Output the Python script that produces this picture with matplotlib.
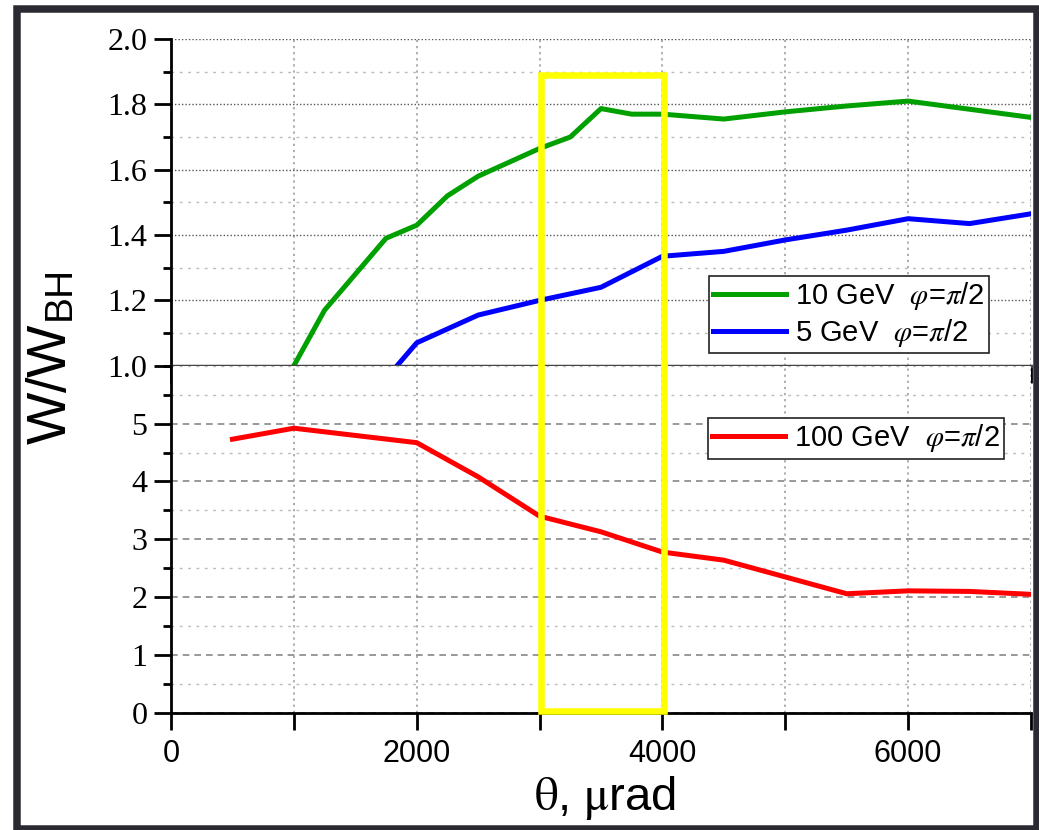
import matplotlib.pyplot as plt
from matplotlib.patches import Rectangle
from matplotlib.ticker import MultipleLocator, FuncFormatter

plt.rcParams['mathtext.fontset'] = 'stix'

# W/W_BH versus theta (urad), phi = pi/2
theta_10 = [1000, 1250, 1750, 2000, 2250, 2500, 3000, 3250, 3500, 3750, 4000, 4500, 5000, 5500, 6000, 6500, 7000]
w_10 = [1.00, 1.17, 1.39, 1.43, 1.52, 1.58, 1.665, 1.70, 1.787, 1.77, 1.77, 1.755, 1.777, 1.795, 1.81, 1.785, 1.76]

theta_5 = [1840, 2000, 2500, 3000, 3500, 4000, 4500, 5000, 5500, 6000, 6500, 7000]
w_5 = [1.00, 1.07, 1.155, 1.20, 1.24, 1.335, 1.35, 1.385, 1.415, 1.45, 1.435, 1.465]

theta_100 = [500, 1000, 2000, 2500, 3000, 3500, 4000, 4500, 5000, 5500, 6000, 6500, 7000]
w_100 = [4.73, 4.92, 4.67, 4.08, 3.40, 3.13, 2.78, 2.64, 2.35, 2.06, 2.11, 2.10, 2.05]

labels = [r'10 GeV  $\varphi$=$\pi$/2', r'5 GeV  $\varphi$=$\pi$/2', r'100 GeV  $\varphi$=$\pi$/2']

# highlighted theta window
box_x = [3010, 4010]
box_top = 1.89
box_bot = 0.03

fig = plt.figure(figsize=(10.39, 8.30), dpi=100)
ax_top = fig.add_axes([0.1646, 0.5594, 0.8277, 0.3936])
ax_bot = fig.add_axes([0.1646, 0.1410, 0.8277, 0.4184])

for ax in (ax_top, ax_bot):
    ax.set_xlim(0, 7000)
    ax.xaxis.set_major_locator(MultipleLocator(1000))
    ax.grid(axis='x', which='major', color='#999999', ls=(0, (1.5, 2.5)), lw=1.1)
    ax.spines['top'].set_visible(False)
    ax.spines['right'].set_visible(False)
    ax.spines['left'].set_linewidth(2)

# upper panel
ax_top.set_ylim(1.0, 2.0)
ax_top.yaxis.set_major_locator(MultipleLocator(0.2))
ax_top.yaxis.set_minor_locator(MultipleLocator(0.1))
ax_top.yaxis.set_major_formatter(FuncFormatter(lambda v, p: '%.1f' % v))
ax_top.grid(axis='y', which='major', color='#555555', ls=(0, (1, 1.5)), lw=1)
ax_top.grid(axis='y', which='minor', color='#bbbbbb', ls=(0, (2, 4)), lw=1)
ax_top.spines['bottom'].set_linewidth(2.5)
ax_top.spines['bottom'].set_color('#444444')
ax_top.plot(theta_10, w_10, color='#00a000', lw=3.6, label=labels[0])
ax_top.plot(theta_5, w_5, color='#0000ff', lw=3.6, label=labels[1])

# lower panel
ax_bot.set_ylim(0, 6)
ax_bot.set_yticks(range(6))
ax_bot.yaxis.set_minor_locator(MultipleLocator(0.5))
ax_bot.grid(axis='y', which='major', color='#888888', ls=(0, (4, 3)), lw=1.2)
ax_bot.grid(axis='y', which='minor', color='#bbbbbb', ls=(0, (2, 4)), lw=1)
ax_bot.spines['bottom'].set_linewidth(2)
ax_bot.xaxis.set_major_formatter(FuncFormatter(lambda v, p: '%d' % v if v % 2000 == 0 else ''))
ax_bot.plot(theta_100, w_100, color='#ff0000', lw=3.6, label=labels[2])

# ticks
for ax in (ax_top, ax_bot):
    ax.tick_params(axis='both', which='major', direction='out', length=12, width=2)
    ax.tick_params(axis='y', which='minor', direction='out', length=6, width=2)
    ax.tick_params(axis='y', pad=5, labelsize=23, labelfontfamily='Liberation Serif')
ax_top.tick_params(axis='x', labelbottom=False)
ax_bot.tick_params(axis='x', pad=7, labelsize=22, labelfontfamily='Liberation Sans')

# yellow box across both panels
ax_top.plot([box_x[0], box_x[0], box_x[1], box_x[1]], [1.0, box_top, box_top, 1.0],
            color='#ffff00', lw=4.7, clip_on=False, zorder=6, solid_joinstyle='miter')
ax_bot.plot([box_x[0], box_x[0], box_x[1], box_x[1]], [6, box_bot, box_bot, 6],
            color='#ffff00', lw=4.7, clip_on=False, zorder=6, solid_joinstyle='miter')

leg_kw = dict(loc='upper left', bbox_transform=fig.transFigure, fancybox=False,
              edgecolor='#222222', framealpha=1, borderaxespad=0, handlelength=2.5,
              handletextpad=0.3, labelspacing=0.15, borderpad=0.15,
              prop={'family': 'Liberation Sans', 'size': 21})
leg1 = ax_top.legend(bbox_to_anchor=(0.6824, 0.6675), **leg_kw)
leg2 = ax_bot.legend(bbox_to_anchor=(0.6814, 0.4964), **leg_kw)
for leg in (leg1, leg2):
    leg.get_frame().set_linewidth(1.2)
    leg.set_zorder(7)

fig.text(52 / 1039, 1 - 358 / 830, r'W/W$_\mathregular{BH}$', rotation=90,
         ha='center', va='center', fontsize=40, family='Liberation Sans')
fig.text(605 / 1039, 1 - 798 / 830, r'$\mathrm{\theta}$, $\mathrm{\mu}$rad',
         ha='center', va='center', fontsize=34, family='Liberation Sans')

# dark outer frame
fig.patches.append(Rectangle((0.0159, 0.0012), 0.9822, 0.9880, transform=fig.transFigure,
                             fill=False, edgecolor='#2b2a33', lw=5.4, zorder=10))

fig.savefig('out.png', dpi=100)
